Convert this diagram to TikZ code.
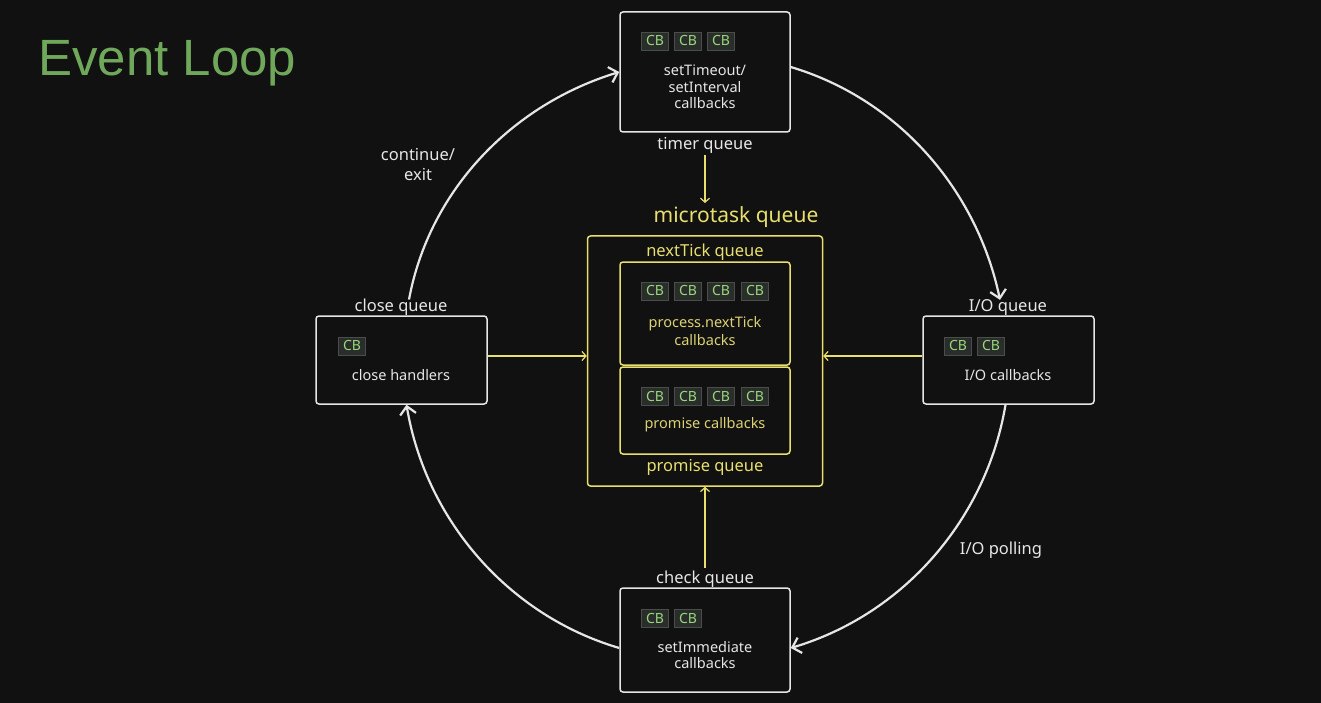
\documentclass[tikz,border=0pt]{standalone}
\usepackage{fontspec}
\setmainfont{Noto Sans}
\newfontfamily\titlefont{Liberation Sans}
\usetikzlibrary{arrows.meta}
\definecolor{bg}{HTML}{111111}
\definecolor{fg}{HTML}{E6E6E6}
\definecolor{yel}{HTML}{E8DF6E}
\definecolor{yeltext}{HTML}{DCD275}
\definecolor{cbfill}{HTML}{2A2E2A}
\definecolor{cbdraw}{HTML}{4A4D4A}
\definecolor{cbtext}{HTML}{9AD67E}
\definecolor{titlegreen}{HTML}{6FA85A}
\begin{document}
\begin{tikzpicture}[x=1pt,y=1pt,
  box/.style={draw=fg, line width=1.5pt, rounded corners=3pt, fill=bg, inner sep=0pt, anchor=center},
  ybox/.style={draw=yel, line width=1.5pt, rounded corners=3pt, inner sep=0pt, anchor=center},
  chip/.style={draw=cbdraw, fill=cbfill, line width=0.8pt, text=cbtext, minimum width=27pt, minimum height=18pt, inner sep=0pt, font=\fontsize{14}{14}\selectfont},
  lbl/.style={text=fg, font=\fontsize{16.5}{20}\selectfont, inner sep=1pt},
  ylbl/.style={text=yel, font=\fontsize{16.5}{20}\selectfont, inner sep=1pt},
  btxt/.style={text=fg, font=\fontsize{14.5}{16.5}\selectfont, align=center, inner sep=0pt},
  ytxt/.style={text=yeltext, font=\fontsize{14.5}{17.5}\selectfont, align=center, inner sep=0pt},
  warrow/.style={draw=fg, line width=2.2pt, -{Straight Barb[length=8pt,width=16pt,line width=2.2pt]}},
  yarrow/.style={draw=yel, line width=1.2pt, -{Straight Barb[length=4pt,width=9pt,line width=1.2pt]}}
]
\fill[bg] (0,0) rectangle (1321,-703);
\useasboundingbox (0,0) rectangle (1321,-703);

% title
\node[anchor=base west, text=titlegreen, font=\titlefont\fontsize{51}{55}\selectfont, inner sep=0pt] (title) at (38,-76) {Event Loop};

% main boxes
\node[box, minimum width=170pt, minimum height=120pt] (timer) at (705,-72) {};
\node[box, minimum width=171pt, minimum height=88pt] (close) at (401.5,-360) {};
\node[box, minimum width=171pt, minimum height=88pt] (io) at (1008.5,-360) {};
\node[box, minimum width=170pt, minimum height=104pt] (check) at (705,-640) {};
\node[ybox, minimum width=235pt, minimum height=250pt] (micro) at (705,-361) {};
\node[ybox, minimum width=170pt, minimum height=103pt] (ntbox) at (705,-313.5) {};
\node[ybox, minimum width=170pt, minimum height=87pt] (prbox) at (705,-410.5) {};

% queue labels
\node[lbl] (timerlbl) at (705,-145) {timer queue};
\node[lbl] (closelbl) at (401,-307) {close queue};
\node[lbl] (iolbl) at (1008,-307) {I/O queue};
\node[lbl] (checklbl) at (705,-579) {check queue};
\node[text=yel, font=\fontsize{21}{24}\selectfont, inner sep=1pt] (microlbl) at (736,-217) {microtask queue};
\node[ylbl] (ntlbl) at (705,-252) {nextTick queue};
\node[ylbl] (prlbl) at (705,-467) {promise queue};

% chips
\node[chip] (t1) at (655,-41) {CB};
\node[chip] (t2) at (688,-41) {CB};
\node[chip] (t3) at (721,-41) {CB};
\node[chip] (c1) at (352,-346) {CB};
\node[chip] (i1) at (958,-346) {CB};
\node[chip] (i2) at (991,-346) {CB};
\node[chip] (s1) at (655,-618) {CB};
\node[chip] (s2) at (688,-618) {CB};
\node[chip] (n1) at (655,-291) {CB};
\node[chip] (n2) at (688,-291) {CB};
\node[chip] (n3) at (721,-291) {CB};
\node[chip] (n4) at (755,-291) {CB};
\node[chip] (p1) at (655,-396) {CB};
\node[chip] (p2) at (688,-396) {CB};
\node[chip] (p3) at (721,-396) {CB};
\node[chip] (p4) at (755,-396) {CB};

% box texts
\node[btxt] (timertxt) at (705,-87) {setTimeout/\\setInterval\\callbacks};
\node[btxt] (closetxt) at (401,-375) {close handlers};
\node[btxt] (iotxt) at (1008,-375) {I/O callbacks};
\node[btxt] (checktxt) at (705,-655) {setImmediate\\callbacks};
\node[ytxt] (nttxt) at (705,-331) {process.nextTick\\callbacks};
\node[ytxt] (prtxt) at (705,-425) {promise callbacks};

% loop labels
\node[lbl, align=center, font=\fontsize{16.5}{20}\selectfont] (cont) at (418,-165) {continue/\\exit};
\node[lbl] (poll) at (1001,-550) {I/O polling};

% loop arcs
\draw[warrow] ([xshift=8pt,yshift=-2pt]closelbl.north) to[out=79.5,in=196.9,looseness=0.92] (timer.west);
\draw[warrow] ([yshift=5pt]timer.east) to[out=-16.6,in=101.9,looseness=0.92] ([xshift=-8pt,yshift=-2pt]iolbl.north);
\draw[warrow] ([xshift=-3pt]io.south) to[out=-99.5,in=16.5,looseness=0.92] ([yshift=-8pt]check.east);
\draw[warrow] ([yshift=-8pt]check.west) to[out=163.6,in=-80.5,looseness=0.92] ([xshift=5pt]close.south);

% microtask arrows
\coordinate (mqin) at (705,-203);
\draw[yarrow] ([yshift=-1pt]timerlbl.south) -- (mqin);
\draw[yarrow] ([yshift=4pt]close.east) -- ([yshift=4pt]close.east -| micro.west);
\draw[yarrow] ([yshift=4pt]io.west) -- ([yshift=4pt]io.west -| micro.east);
\draw[yarrow] ([yshift=2pt]checklbl.north) -- (checklbl.north |- micro.south);
\end{tikzpicture}
\end{document}
